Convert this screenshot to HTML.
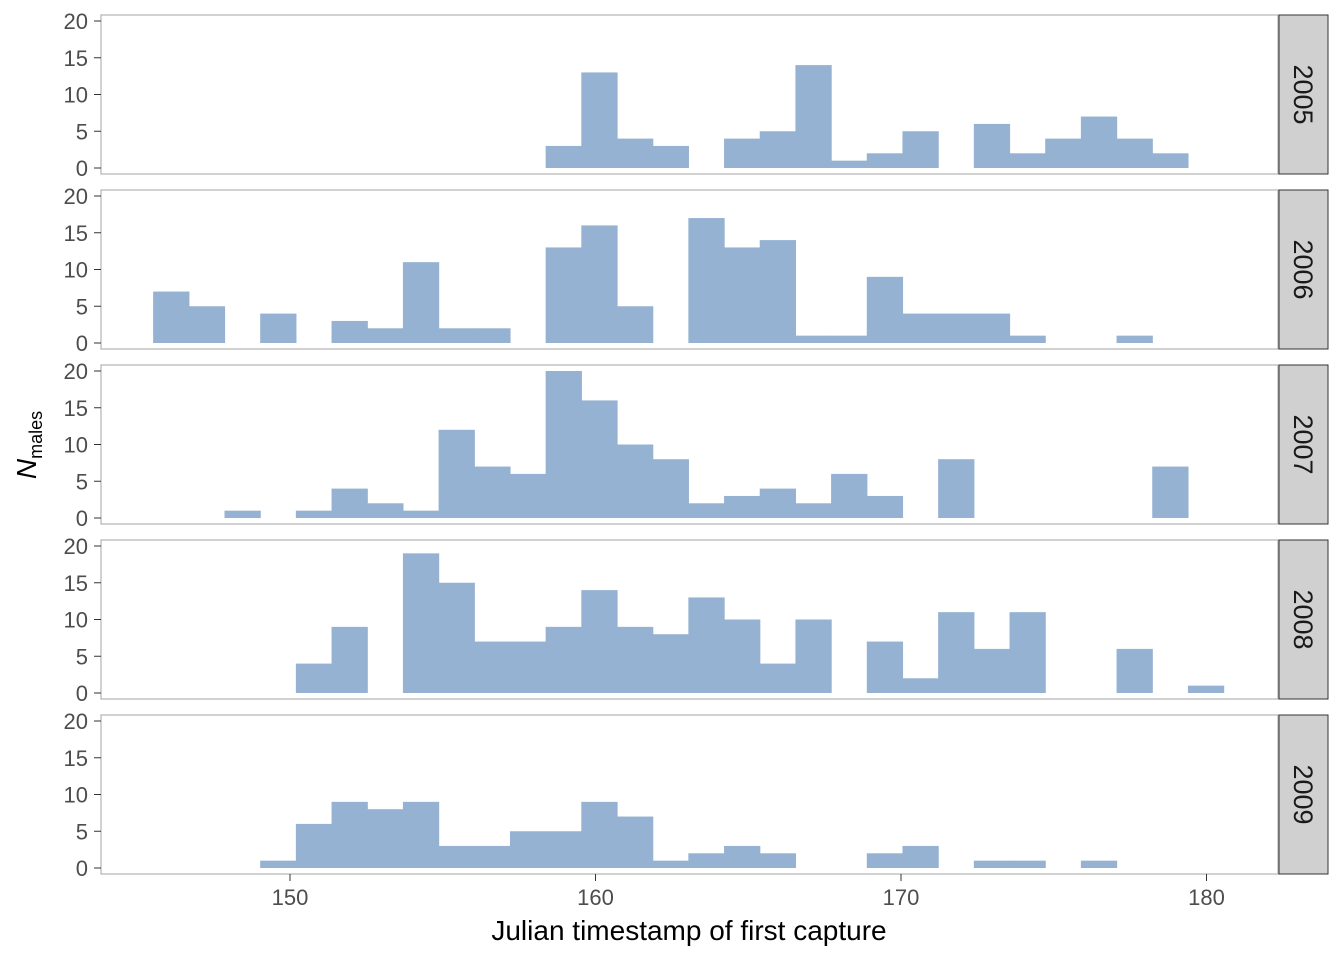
<!DOCTYPE html>
<html><head><meta charset="utf-8"><style>
body{margin:0;background:#fff;}
svg text{font-family:"Liberation Sans",sans-serif;}
</style></head><body>
<svg id="chart" width="1344" height="960" xmlns="http://www.w3.org/2000/svg"></svg>
<script>
const years = ["2005","2006","2007","2008","2009"];
const binStart = 145.52;
const binWidth = 1.168;
const counts2005 = [0,0,0,0,0,0,0,0,0,0,0,3,13,4,3,0,4,5,14,1,2,5,0,6,2,4,7,4,2,0];
const counts2006 = [7,5,0,4,0,3,2,11,2,2,0,13,16,5,0,17,13,14,1,1,9,4,4,4,1,0,0,1,0,0];
const counts2007 = [0,0,1,0,1,4,2,1,12,7,6,20,16,10,8,2,3,4,2,6,3,0,8,0,0,0,0,0,7,0];
const counts2008 = [0,0,0,0,4,9,0,19,15,7,7,9,14,9,8,13,10,4,10,0,7,2,11,6,11,0,0,6,0,1];
const counts2009 = [0,0,0,1,6,9,8,9,3,3,5,5,9,7,1,2,3,2,0,0,2,3,0,1,1,0,1,0,0,0];
const allCounts = [counts2005,counts2006,counts2007,counts2008,counts2009];
const yTicks = [0,5,10,15,20];
const xTicks = [150,160,170,180];

const NS="http://www.w3.org/2000/svg";
const svg=document.getElementById('chart');
function mk(t,a,p){const e=document.createElementNS(NS,t);for(const k in a)e.setAttribute(k,a[k]);(p||svg).appendChild(e);return e;}
const X=v=>290+(v-150)*30.55;
const panelL=101, panelR=1278, panelH=159, panelTops=[15,190,365,540,715];

years.forEach((yr,i)=>{
  const top=panelTops[i];
  const Y=v=>top+153-v*7.35;
  const g=mk('g',{});
  
  
  const bars=mk('g',{},g);
  
  
  allCounts[i].forEach((c,k)=>{
    if(c<=0)return;
    const x0=X(binStart+k*binWidth), x1=X(binStart+(k+1)*binWidth);
    const r=mk('rect',{x:x0,y:Y(c),width:x1-x0+0.6,height:Y(0)-Y(c),fill:'#95b2d2'},bars);
    
    
  });
  const f=mk('rect',{x:panelL,y:top,width:panelR-panelL,height:panelH,fill:'none',stroke:'#b3b3b3','stroke-width':1.2},g);
  
  
  yTicks.forEach(t=>{
    mk('line',{x1:94,x2:101,y1:Y(t),y2:Y(t),stroke:'#333','stroke-width':1},g);
    const tx=mk('text',{x:88,y:Y(t)+8,'text-anchor':'end','font-size':22,fill:'#4d4d4d'},g);
    tx.textContent=t;
    
    
  });
  const s=mk('rect',{x:1279,y:top,width:49,height:panelH,fill:'#d0d0d0',stroke:'#333','stroke-width':1},g);
  
  
  const st=mk('text',{x:0,y:0,'text-anchor':'middle','font-size':27,fill:'#1a1a1a',transform:`translate(1294,${top+panelH/2}) rotate(90)`},g);
  st.textContent=yr;
  
  
});
xTicks.forEach(t=>{
  mk('line',{x1:X(t),x2:X(t),y1:874,y2:881,stroke:'#333','stroke-width':1});
  const tx=mk('text',{x:X(t),y:905,'text-anchor':'middle','font-size':22,fill:'#4d4d4d'});
  tx.textContent=t;
  
  
});
const xt=mk('text',{x:689,y:940,'text-anchor':'middle','font-size':28,fill:'#000'});
xt.textContent='Julian timestamp of first capture';


const yt=mk('text',{x:0,y:0,'text-anchor':'middle','font-size':28,fill:'#000',transform:'translate(36,445) rotate(-90)'});


const t1=mk('tspan',{'font-style':'italic'},yt);t1.textContent='N';
const t2=mk('tspan',{'font-size':18,dy:6},yt);t2.textContent='males';
</script>
</body></html>
